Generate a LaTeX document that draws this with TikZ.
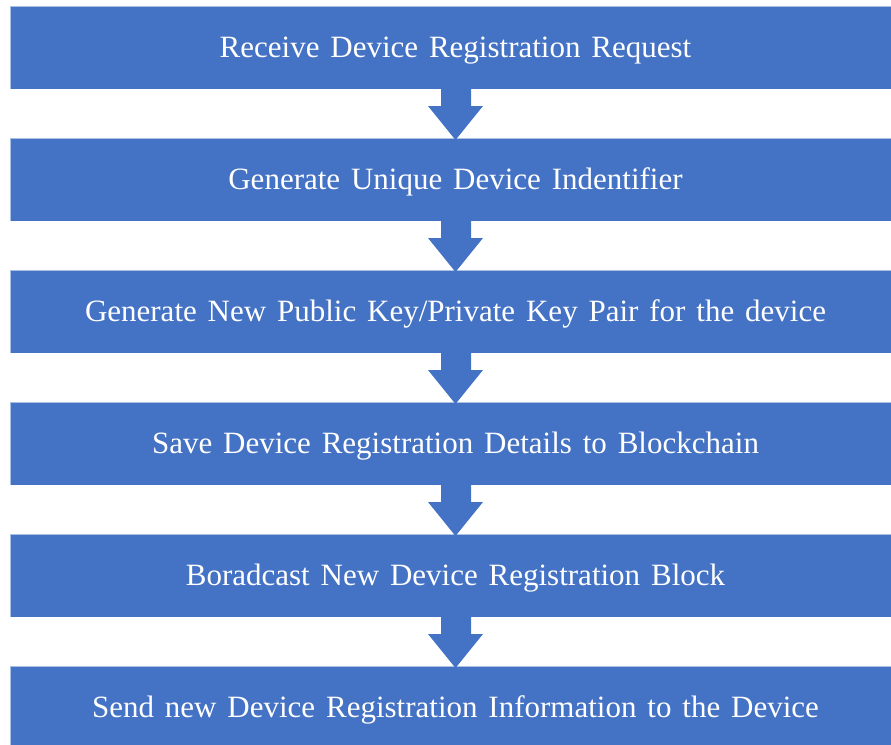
\documentclass[tikz,border=0pt]{standalone}
\usepackage{fontspec}
\setmainfont[WordSpace=1.4]{Liberation Serif}
\definecolor{stepblue}{HTML}{4472C4}
\begin{document}
\begin{tikzpicture}[x=1pt,y=-1pt,
  stepbox/.style={fill=stepblue, draw=white, draw opacity=0.55, line width=0.8pt},
  steptext/.style={text=white, font=\fontsize{31}{36}\selectfont, anchor=base, inner sep=0pt},
  downarrow/.style={fill=stepblue, draw=none}]
\useasboundingbox (0,0) rectangle (891,744);
\begin{scope}
\clip (0,0) rectangle (891,744);
% six process steps, 132 px apart
\foreach \i/\t in {0/{Receive Device Registration Request},
                   1/{Generate Unique Device Indentifier},
                   2/{Generate New Public Key/Private Key Pair for the device},
                   3/{Save Device Registration Details to Blockchain},
                   4/{Boradcast New Device Registration Block},
                   5/{Send new Device Registration Information to the Device}}{
  \pgfmathsetmacro{\top}{6+132*\i}
  \draw[stepbox] (10,\top) rectangle (901,\top+83);
  \node[steptext] (s\i) at (455.5,\top+51.3) {\t};
}
% block arrows between consecutive steps
\foreach \i in {0,...,4}{
  \pgfmathsetmacro{\bot}{89+132*\i}
  \fill[downarrow] (441,\bot) -- (471,\bot) -- (471,\bot+17) -- (483,\bot+17)
     -- (455.5,\bot+51) -- (428,\bot+17) -- (441,\bot+17) -- cycle;
}
\end{scope}
\end{tikzpicture}
\end{document}
